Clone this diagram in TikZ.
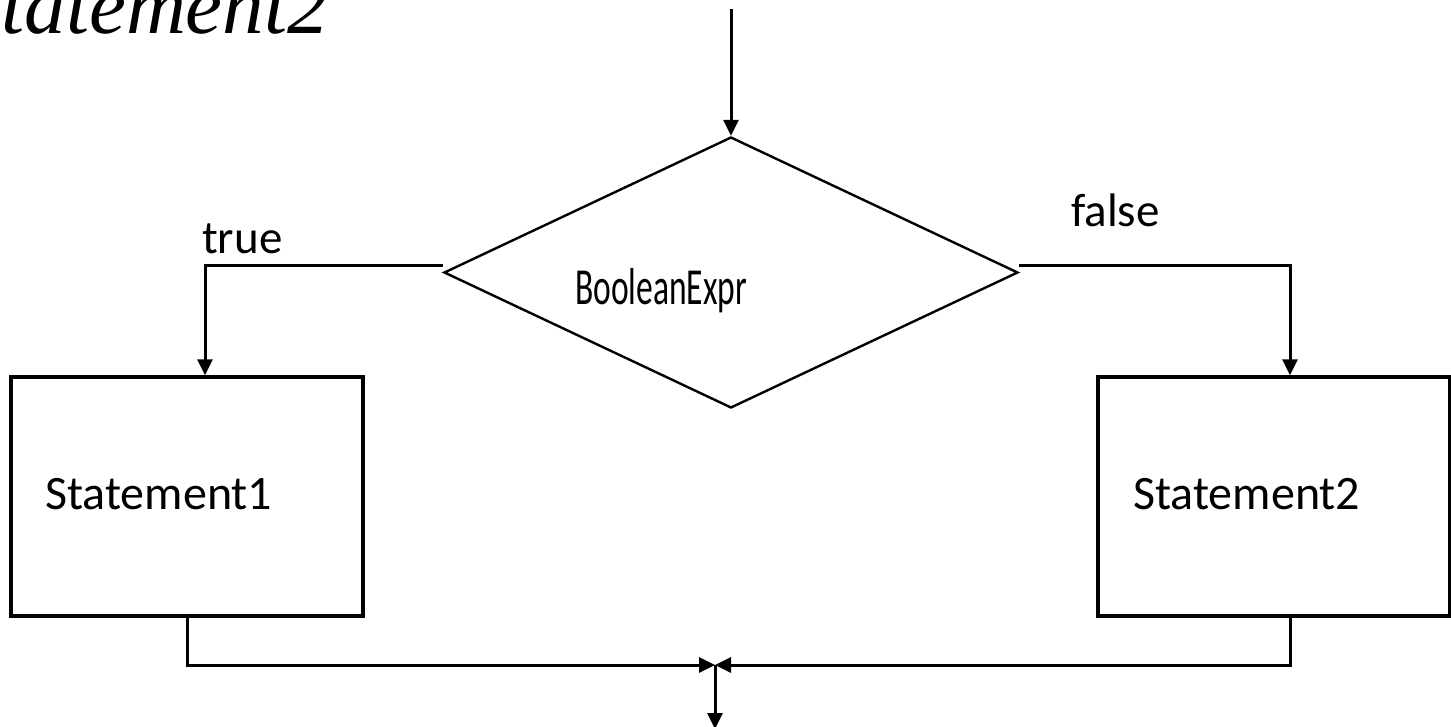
\documentclass[tikz,border=0pt]{standalone}
\usepackage{fontspec}
\setmainfont{Carlito}
\newfontfamily\timesit{Liberation Serif}
\usetikzlibrary{shapes.geometric,arrows.meta,calc}
\begin{document}
\begin{tikzpicture}[x=1pt,y=-1pt,
  arr/.style={line width=3pt,-{Triangle[length=16pt,width=15pt]}},
  boxstyle/.style={draw,line width=3.4pt,rectangle,minimum width=352pt,minimum height=239pt,inner sep=0pt},
  diastyle/.style={draw,line width=2.4pt,diamond,aspect=2.118,minimum width=574pt,minimum height=271pt,inner sep=0pt},
  lbl/.style={inner sep=0pt,anchor=base west}]
\useasboundingbox (0,0) rectangle (1451,727);
\node[diastyle] (dia) at (731,272.5) {};
\node[boxstyle] (s1) at (187,496.5) {};
\node[boxstyle] (s2) at (1274,496.5) {};
\node[lbl] (bexpr) at (575,305) {\fontsize{52}{56}\selectfont\scalebox{0.645}[1]{BooleanExpr}};
\node[lbl] (t1) at (45,509) {\fontsize{48}{52}\selectfont Statement1};
\node[lbl] (t2) at (1133,509) {\fontsize{48}{52}\selectfont Statement2};
\node[lbl] (ltrue) at (202,254) {\fontsize{47}{50}\selectfont true};
\node[lbl] (lfalse) at (1071,227) {\fontsize{47}{50}\selectfont false};
\node[inner sep=0pt,anchor=base east] (title) at (329,34) {\fontsize{83}{90}\selectfont\timesit\itshape Statement2};
\coordinate (top) at (731,9);
\coordinate (join) at (715,665);
\coordinate (out) at (715,729);
\draw[arr] (top) -- (dia.north);
\draw[arr] ([yshift=7pt]dia.west) -| ([xshift=18pt]s1.north);
\draw[arr] ([yshift=7pt]dia.east) -| ([xshift=16pt]s2.north);
\draw[arr] (s1.south) |- (join);
\draw[arr] ([xshift=16pt]s2.south) |- (join);
\draw[arr] (join) -- (out);
\end{tikzpicture}
\end{document}
